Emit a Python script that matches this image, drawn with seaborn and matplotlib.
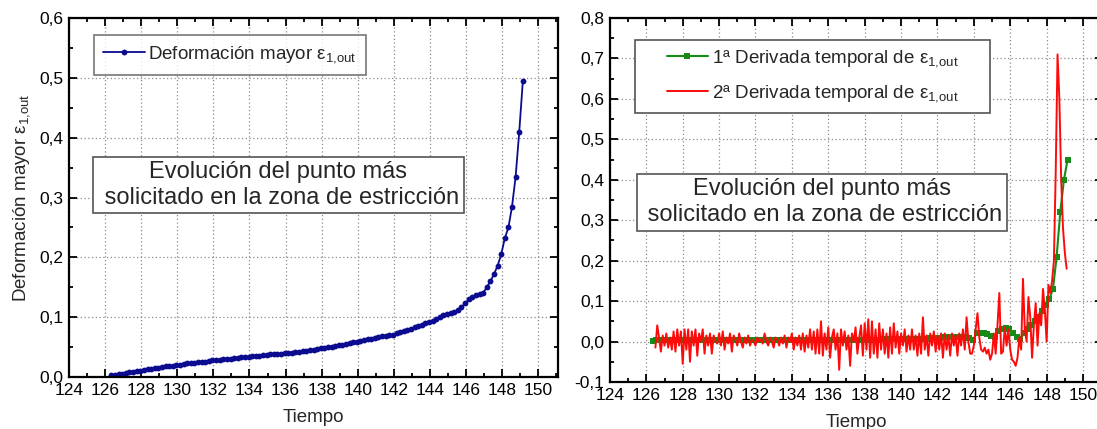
import numpy as np
import pandas as pd
import seaborn as sns
import matplotlib.pyplot as plt
from matplotlib.patches import Rectangle
from matplotlib.ticker import MultipleLocator, FuncFormatter

sns.set_style("ticks")
plt.rcParams["font.family"] = ["Liberation Sans", "DejaVu Sans"]
plt.rcParams["mathtext.fontset"] = "custom"
plt.rcParams["mathtext.rm"] = "Liberation Sans"
plt.rcParams["mathtext.it"] = "Liberation Sans"
plt.rcParams["mathtext.default"] = "regular"

# ------------------------------------------------------------------
# Data
# ------------------------------------------------------------------
# sampling grid of the strain / 1st derivative (every 0.2 time units)
t_strain = np.round(126.35 + 0.2 * np.arange(115), 2)

strain = [
    0.003, 0.004, 0.005, 0.006, 0.007,
    0.008, 0.009, 0.010, 0.011, 0.012,
    0.013, 0.014, 0.015, 0.016, 0.017,
    0.018, 0.019, 0.019, 0.020, 0.021,
    0.022, 0.023, 0.023, 0.024, 0.025,
    0.026, 0.026, 0.027, 0.028, 0.028,
    0.029, 0.030, 0.030, 0.031, 0.032,
    0.032, 0.033, 0.034, 0.034, 0.035,
    0.036, 0.036, 0.037, 0.037, 0.038,
    0.038, 0.039, 0.039, 0.040, 0.040,
    0.041, 0.042, 0.042, 0.043, 0.044,
    0.045, 0.046, 0.047, 0.048, 0.049,
    0.050, 0.051, 0.052, 0.053, 0.054,
    0.055, 0.057, 0.058, 0.059, 0.060,
    0.062, 0.063, 0.064, 0.066, 0.067,
    0.068, 0.069, 0.070, 0.071, 0.073,
    0.075, 0.077, 0.079, 0.081, 0.083,
    0.085, 0.087, 0.090, 0.092, 0.094,
    0.097, 0.100, 0.103, 0.105, 0.107,
    0.109, 0.112, 0.117, 0.123, 0.130,
    0.134, 0.137, 0.139, 0.141, 0.150,
    0.160, 0.172, 0.186, 0.205, 0.232,
    0.250, 0.285, 0.335, 0.410, 0.495,
]

deriv1 = [
    0.002, 0.003, 0.004, 0.004, 0.005,
    0.005, 0.005, 0.005, 0.005, 0.005,
    0.005, 0.005, 0.004, 0.005, 0.005,
    0.004, 0.004, 0.005, 0.004, 0.004,
    0.004, 0.004, 0.004, 0.004, 0.004,
    0.004, 0.004, 0.003, 0.004, 0.003,
    0.003, 0.003, 0.003, 0.003, 0.004,
    0.003, 0.003, 0.003, 0.003, 0.003,
    0.003, 0.003, 0.003, 0.003, 0.003,
    0.003, 0.003, 0.003, 0.004, 0.004,
    0.004, 0.004, 0.004, 0.005, 0.005,
    0.005, 0.005, 0.005, 0.005, 0.005,
    0.005, 0.005, 0.005, 0.006, 0.006,
    0.006, 0.006, 0.006, 0.006, 0.007,
    0.007, 0.007, 0.007, 0.007, 0.007,
    0.007, 0.008, 0.008, 0.009, 0.009,
    0.010, 0.010, 0.010, 0.011, 0.011,
    0.012, 0.012, 0.008, 0.003, 0.020,
    0.022, 0.020, 0.018, 0.014, 0.012,
    0.025, 0.032, 0.034, 0.030, 0.022,
    0.012, 0.006, 0.020, 0.030, 0.040,
    0.050, 0.060, 0.075, 0.090, 0.105,
    0.130, 0.210, 0.320, 0.400, 0.449,
]

# 2nd derivative, sampled every 0.1 time units
t_deriv2 = np.round(126.5 + 0.1 * np.arange(227), 2)

deriv2 = [
    -0.015, 0.040, 0.010, -0.025, 0.015, -0.010, 0.020, -0.015, 0.010, -0.020,
    0.025, -0.025, 0.030, -0.010, 0.025, -0.055, 0.030, -0.020, 0.030, -0.050,
    0.025, -0.010, 0.030, -0.035, 0.020, 0.000, 0.030, -0.030, 0.015, -0.010,
    0.020, -0.030, 0.015, 0.000, -0.005, 0.020, -0.010, 0.025, -0.020, 0.010,
    -0.005, 0.020, -0.025, 0.015, 0.005, -0.010, 0.020, 0.000, -0.015, 0.010,
    -0.005, 0.015, -0.010, 0.005, 0.000, -0.010, 0.010, 0.000, 0.005, -0.005,
    0.020, 0.000, -0.010, 0.010, 0.000, -0.015, 0.010, 0.005, -0.010, 0.010,
    -0.005, 0.015, -0.015, 0.010, 0.000, 0.020, -0.020, 0.010, -0.010, 0.015,
    -0.020, 0.020, -0.025, 0.015, -0.015, 0.030, -0.020, 0.025, -0.030, 0.030,
    -0.030, 0.050, -0.035, 0.020, -0.020, 0.035, -0.040, 0.010, 0.030, -0.020,
    0.020, -0.070, 0.030, -0.010, 0.025, -0.020, 0.015, -0.060, 0.020, 0.000,
    0.035, -0.030, 0.010, 0.040, -0.035, 0.045, -0.020, 0.055, -0.040, 0.050,
    -0.030, 0.030, -0.040, 0.045, -0.020, 0.030, -0.030, 0.020, -0.040, 0.035,
    -0.030, 0.045, -0.015, 0.025, -0.030, 0.020, -0.010, 0.030, -0.025, 0.015,
    -0.020, 0.030, -0.020, 0.015, -0.035, 0.020, -0.030, 0.060, -0.020, 0.015,
    -0.035, 0.020, -0.010, 0.025, -0.025, 0.015, -0.020, 0.020, -0.040, 0.020,
    -0.020, 0.015, -0.035, 0.020, -0.010, 0.015, -0.035, 0.020, -0.010, 0.030,
    -0.020, 0.060, 0.000, -0.030, -0.030, -0.010, 0.030, 0.070, 0.010, -0.020,
    -0.025, -0.015, -0.030, -0.020, -0.045, -0.030, 0.020, -0.030, 0.040, 0.120,
    -0.030, -0.025, 0.035, -0.010, 0.030, -0.020, -0.045, -0.050, -0.060, -0.040,
    0.010, -0.020, 0.155, 0.030, 0.000, 0.110, 0.060, -0.040, 0.040, 0.095,
    -0.010, 0.070, 0.040, 0.130, 0.080, 0.000, 0.140, 0.120, 0.150, 0.200,
    0.420, 0.710, 0.600, 0.400, 0.280, 0.220, 0.180,
]

df_strain = pd.DataFrame({"Tiempo": t_strain, "strain": strain, "deriv1": deriv1})
df_d2 = pd.DataFrame({"Tiempo": t_deriv2, "deriv2": deriv2})

eps = "ε$_{1{,}out}$"
note = "Evolución del punto más\n solicitado en la zona de estricción"


def comma(v, pos):
    return f"{round(v, 2):.1f}".replace(".", ",").replace("-0,0", "0,0")


def style_axes(ax, ymin, ymax, xmax):
    ax.set_xlim(124, xmax)
    ax.set_ylim(ymin, ymax)
    ax.xaxis.set_major_locator(MultipleLocator(2))
    ax.xaxis.set_minor_locator(MultipleLocator(1))
    ax.yaxis.set_major_locator(MultipleLocator(0.1))
    ax.yaxis.set_minor_locator(MultipleLocator(0.05))
    ax.yaxis.set_major_formatter(FuncFormatter(comma))
    ax.tick_params(which="both", direction="in", top=True, right=True,
                   labelsize=12.5, colors="black", width=1.3)
    ax.tick_params(which="major", length=6, pad=4)
    ax.tick_params(which="minor", length=3)
    ax.grid(True, which="major", color="#8a8a8a", linestyle=(0, (1, 2)), linewidth=0.9)
    for s in ax.spines.values():
        s.set_linewidth(1.6)
        s.set_color("black")
    ax.set_xlabel("Tiempo", fontsize=13.5, labelpad=8)


fig = plt.figure(figsize=(10.97, 4.29), dpi=100)
ax1 = fig.add_axes([0.0629, 0.121, 0.4458, 0.837])
ax2 = fig.add_axes([0.556, 0.1096, 0.4495, 0.8485])

# Left: major strain
sns.lineplot(data=df_strain, x="Tiempo", y="strain", ax=ax1, color="#0b0b8f",
             marker="o", markersize=4.2, markeredgewidth=0, linewidth=1.3,
             errorbar=None, label="Deformación mayor " + eps)
style_axes(ax1, 0.0, 0.6, 151.1)
ax1.set_ylabel("Deformación mayor " + eps, fontsize=13.5, labelpad=5)
leg1 = ax1.legend(loc="upper left", bbox_to_anchor=(0.051, 0.953), borderaxespad=0,
                  fontsize=13.5, frameon=True, fancybox=False, numpoints=1,
                  handlelength=2.2, handletextpad=0.2, borderpad=0.5)
leg1.get_frame().set_edgecolor("#555555")
leg1.get_frame().set_linewidth(1.2)
ax1.text(0.428, 0.535, note, transform=ax1.transAxes, ha="center", va="center",
         fontsize=17, linespacing=1.2, multialignment="center",
         bbox=dict(boxstyle="square,pad=0.2", facecolor="white", edgecolor="#555555", linewidth=1.2))

# Right: 1st and 2nd time derivatives
sns.lineplot(data=df_strain, x="Tiempo", y="deriv1", ax=ax2, color="#178a17",
             marker="s", markersize=3.8, markeredgewidth=0, linewidth=1.5,
             dashes=False, errorbar=None, label="1ª Derivada temporal de " + eps)
sns.lineplot(data=df_d2, x="Tiempo", y="deriv2", ax=ax2, color="#ff0a0a",
             linewidth=1.4, errorbar=None, label="2ª Derivada temporal de " + eps)
style_axes(ax2, -0.1, 0.8, 151.1)
ax2.set_ylabel("")

# legend box of the right panel: wide white frame, entries centred inside
box_x0, box_x1, box_y0, box_y1 = 0.0513, 0.770, 0.739, 0.9396
ax2.add_patch(Rectangle((box_x0, box_y0), box_x1 - box_x0, box_y1 - box_y0,
                        transform=ax2.transAxes, facecolor="white",
                        edgecolor="#555555", linewidth=1.2, zorder=4.8))
ax2.legend(loc="center", bbox_to_anchor=((box_x0 + box_x1) / 2, (box_y0 + box_y1) / 2),
           borderaxespad=0, fontsize=13.5, frameon=False, numpoints=1,
           handlelength=2.2, handletextpad=0.2, labelspacing=0.75)
ax2.text(0.43, 0.494, note, transform=ax2.transAxes, ha="center", va="center",
         fontsize=17, linespacing=1.2, multialignment="center",
         bbox=dict(boxstyle="square,pad=0.2", facecolor="white", edgecolor="#555555", linewidth=1.2))

plt.savefig("out.png", dpi=100)
